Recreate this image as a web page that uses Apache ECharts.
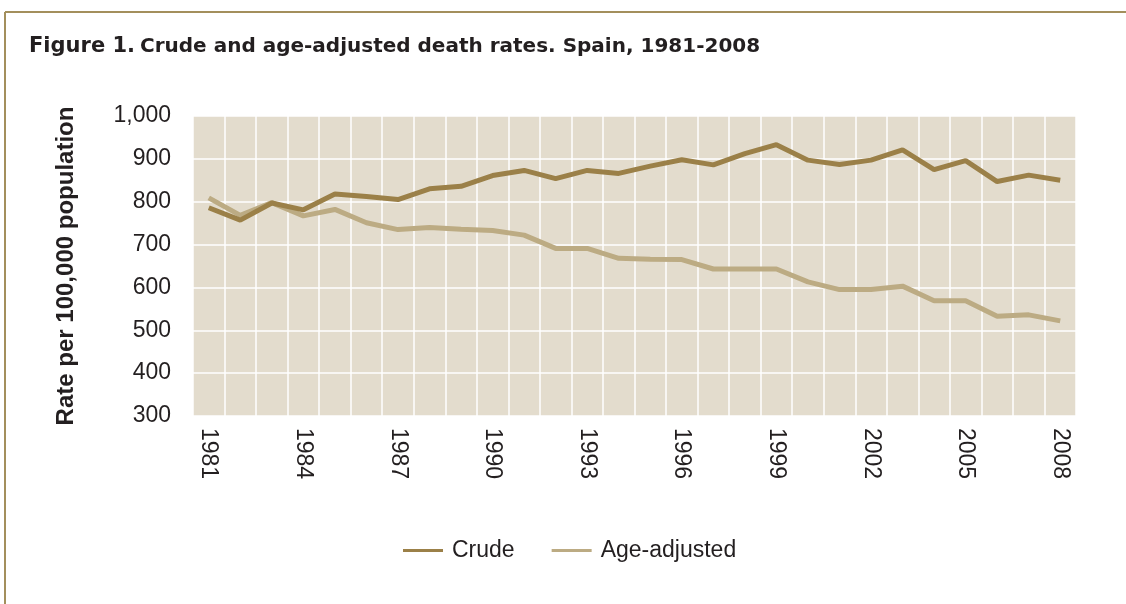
<!DOCTYPE html>
<html>
<head>
<meta charset="utf-8">
<script src="https://cdn.jsdelivr.net/npm/echarts@6/dist/echarts.min.js"></script>
<style>
  html, body { margin: 0; padding: 0; background: #fff; }
  #chart { width: 1126px; height: 604px; }
</style>
</head>
<body>
<div id="chart"></div>
<script>
// years on the x axis
var years = ["1981", "1982", "1983", "1984", "1985", "1986", "1987", "1988", "1989", "1990",
  "1991", "1992", "1993", "1994", "1995", "1996", "1997", "1998", "1999", "2000",
  "2001", "2002", "2003", "2004", "2005", "2006", "2007", "2008"];
// rates per 100,000 population
var crude = [786, 757, 797, 781, 818, 812, 805, 830, 836, 861,
  873, 854, 873, 866, 883, 898, 886, 912, 933, 897,
  887, 897, 921, 875, 896, 847, 862, 850];
var ageAdjusted = [809, 768, 798, 767, 782, 751, 735, 740, 736, 733,
  722, 691, 691, 668, 666, 665, 643, 643, 643, 613,
  595, 595, 603, 569, 569, 533, 536, 522];
var seriesNames = ["Crude", "Age-adjusted"];

var chart = echarts.init(document.getElementById("chart"), null, { renderer: "canvas" });

var option = {
  animation: false,
  backgroundColor: "#fff",
  textStyle: { fontFamily: "Liberation Sans, Arial, sans-serif" },
  title: {
    left: 24,
    top: 31,
    text: "{a|Figure 1.} {b|Crude and age-adjusted death rates. Spain, 1981-2008}",
    textStyle: {
      rich: {
        a: { fontFamily: "DejaVu Sans", fontWeight: "bold", fontSize: 21, color: "#231f20" },
        b: { fontFamily: "DejaVu Sans", fontWeight: "bold", fontSize: 20, color: "#231f20" }
      }
    }
  },
  graphic: [
    { type: "line", shape: { x1: 5, y1: 12, x2: 1126, y2: 12 }, style: { stroke: "#a38f5c", lineWidth: 2 } },
    { type: "line", shape: { x1: 5, y1: 12, x2: 5, y2: 604 }, style: { stroke: "#a38f5c", lineWidth: 2 } }
  ],
  grid: {
    left: 193,
    right: 50,
    top: 116,
    bottom: 188,
    show: true,
    backgroundColor: "#e3dccd",
    borderWidth: 0
  },
  legend: {
    data: seriesNames,
    bottom: 37,
    left: 398,
    icon: "rect",
    itemWidth: 40,
    itemHeight: 3,
    itemGap: 37,
    textStyle: { fontSize: 23, color: "#231f20", padding: [0, 0, 0, 4] }
  },
  xAxis: {
    type: "category",
    data: years,
    boundaryGap: true,
    axisLine: { show: false },
    axisTick: { show: false },
    axisLabel: {
      interval: 2,
      rotate: -90,
      margin: 12,
      fontSize: 23,
      color: "#231f20"
    },
    splitLine: { show: true, interval: 0, lineStyle: { color: "#ffffff", width: 1.5 } }
  },
  yAxis: {
    type: "value",
    min: 300,
    max: 1000,
    interval: 100,
    name: "Rate per 100,000 population",
    nameLocation: "middle",
    nameRotate: 90,
    nameGap: 115,
    nameTextStyle: { fontSize: 24, fontWeight: "bold", color: "#231f20" },
    axisLine: { show: false },
    axisTick: { show: false },
    axisLabel: {
      margin: 22,
      fontSize: 23,
      color: "#231f20",
      formatter: function (v) {
        return v.toLocaleString("en-US");
      }
    },
    splitLine: { show: true, lineStyle: { color: "#ffffff", width: 1.5 } }
  },
  series: [
    {
      name: seriesNames[0],
      type: "line",
      data: crude,
      symbol: "none",
      z: 3,
      color: "#9b8048",
      lineStyle: { width: 5, color: "#9b8048" }
    },
    {
      name: seriesNames[1],
      type: "line",
      data: ageAdjusted,
      symbol: "none",
      z: 2,
      color: "#bcab83",
      lineStyle: { width: 5, color: "#bcab83" }
    }
  ]
};

chart.setOption(option);
</script>
</body>
</html>
